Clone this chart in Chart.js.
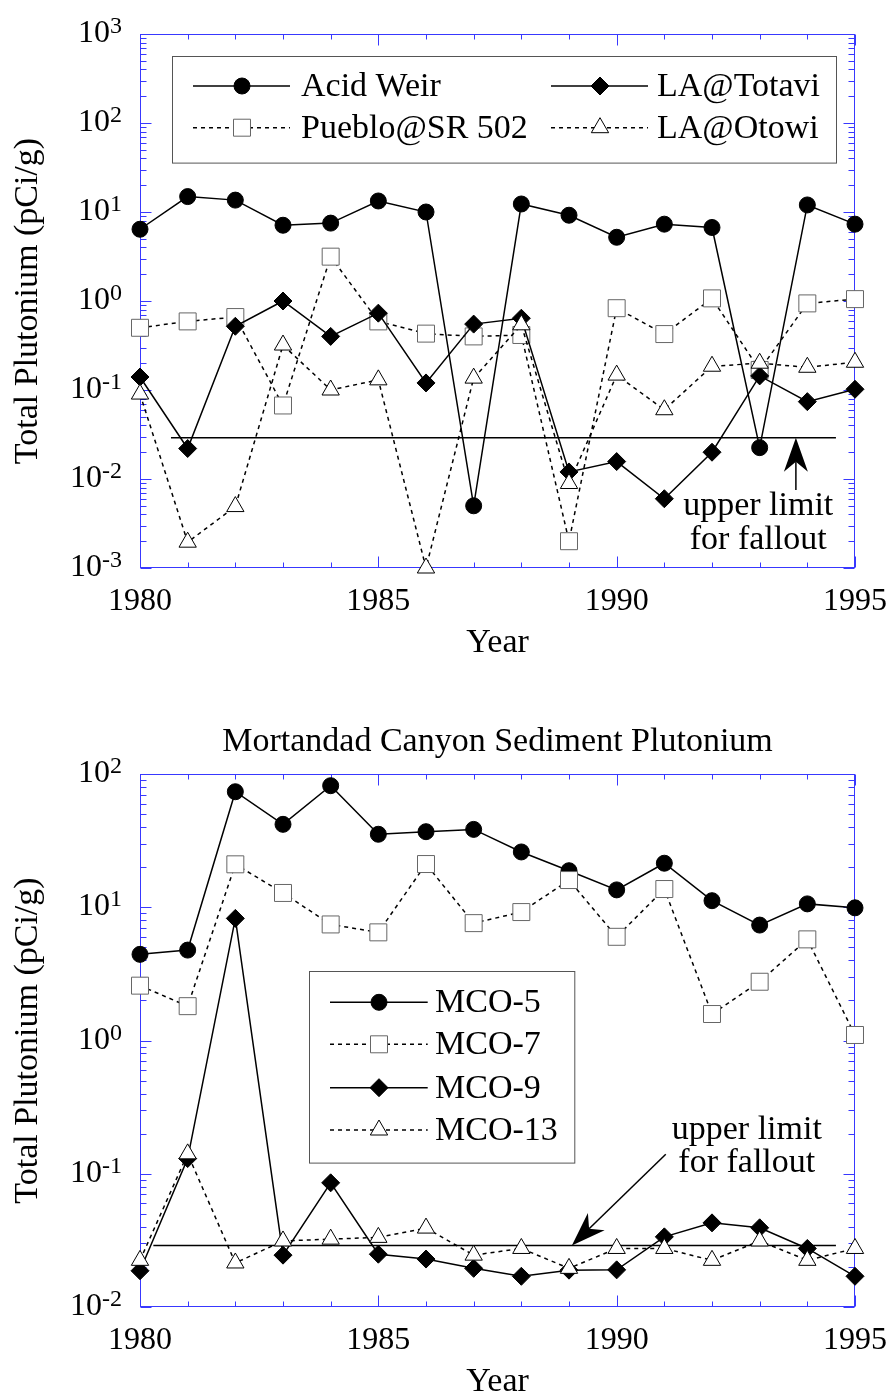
<!DOCTYPE html>
<html>
<head>
<meta charset="utf-8">
<script src="https://cdn.jsdelivr.net/npm/chart.js@4.4.1/dist/chart.umd.min.js"></script>
<style>
  html, body { margin: 0; padding: 0; background: #fff; }
  canvas { display: block; }
</style>
</head>
<body>
<canvas id="topChart" width="891" height="700"></canvas>
<canvas id="bottomChart" width="891" height="697"></canvas>
<script>
const years = [1980, 1981, 1982, 1983, 1984, 1985, 1986, 1987, 1988, 1989, 1990, 1991, 1992, 1993, 1994, 1995];

// upper panel (pCi/g)
const acidWeir = [6.4, 14.9, 13.6, 7.1, 7.5, 13.3, 10.0, 0.005, 12.3, 9.2, 5.2, 7.3, 6.7, 0.0225, 12.0, 7.3];
const puebloSR502 = [0.5, 0.59, 0.66, 0.067, 3.15, 0.59, 0.43, 0.40, 0.415, 0.002, 0.83, 0.425, 1.07, 0.168, 0.94, 1.05];
const laTotavi = [0.14, 0.022, 0.52, 1.0, 0.40, 0.73, 0.12, 0.55, 0.64, 0.012, 0.0157, 0.006, 0.02, 0.144, 0.074, 0.102];
const laOtowi = [0.09, 0.00195, 0.0049, 0.32, 0.1, 0.13, 0.001, 0.136, 0.54, 0.0089, 0.147, 0.06, 0.185, 0.2, 0.18, 0.205];

// lower panel (pCi/g)
const mco5 = [4.43, 4.77, 73.6, 41.9, 81.7, 35.3, 36.9, 38.4, 26.0, 18.8, 13.5, 21.4, 11.2, 7.35, 10.6, 9.9];
const mco7 = [2.58, 1.81, 21.0, 12.8, 7.43, 6.48, 21.1, 7.6, 9.2, 16.0, 6.0, 13.7, 1.58, 2.76, 5.74, 1.10];
const mco9 = [0.0187, 0.13, 8.25, 0.0245, 0.0855, 0.0249, 0.0229, 0.0195, 0.017, 0.0189, 0.019, 0.0336, 0.0428, 0.0393, 0.0275, 0.017];
const mco13 = [0.0224, 0.141, 0.0214, 0.0313, 0.0323, 0.0333, 0.0391, 0.0245, 0.0275, 0.0195, 0.0275, 0.0275, 0.0224, 0.0313, 0.0224, 0.0275];

const falloutLevel = 0.029;
const topFalloutSpan = [1980.65, 1994.6];
const bottomFalloutSpan = [1980.28, 1994.6];

const xTickYears = [1980, 1985, 1990, 1995];
const topExponents = [-3, -2, -1, 0, 1, 2, 3];
const bottomExponents = [-2, -1, 0, 1, 2];

const yTitle = 'Total Plutonium (pCi/g)';
const xTitle = 'Year';
const bottomTitle = 'Mortandad Canyon Sediment Plutonium';
const noteLines = ['upper limit', 'for fallout'];

const FONT = '"Liberation Serif", "Times New Roman", Times, serif';
const TICK_FONT = '32px ' + FONT;
const TEXT_FONT = '34px ' + FONT;
const BLUE = '#3838ff';

const markers = {
  circle:   { pointStyle: 'circle',   pointRadius: 8,  pointBackgroundColor: '#000', pointBorderColor: '#000', pointBorderWidth: 1 },
  diamond:  { pointStyle: 'rectRot',  pointRadius: 9,  pointBackgroundColor: '#000', pointBorderColor: '#000', pointBorderWidth: 1 },
  square:   { pointStyle: 'rect',     pointRadius: 12, pointBackgroundColor: '#fff', pointBorderColor: '#666', pointBorderWidth: 1 },
  triangle: { pointStyle: 'triangle', pointRadius: 10, pointBackgroundColor: '#fff', pointBorderColor: '#000', pointBorderWidth: 1 }
};

function series(label, values, marker, dashed) {
  return Object.assign({
    label: label,
    data: values.map((v, i) => ({ x: years[i], y: v })),
    borderColor: '#000',
    borderWidth: 1.5,
    borderDash: dashed ? [4, 4] : [],
    clip: false
  }, markers[marker]);
}

function falloutLine(span) {
  return {
    label: 'fallout',
    data: [{ x: span[0], y: falloutLevel }, { x: span[1], y: falloutLevel }],
    borderColor: '#000', borderWidth: 1.5, pointRadius: 0, clip: false
  };
}

function drawFrame(chart, exps) {
  const { ctx, chartArea: a, scales: { x, y } } = chart;
  ctx.save();
  ctx.strokeStyle = BLUE;
  ctx.lineWidth = 1;
  const L = Math.round(a.left) + 0.5, R = Math.round(a.right) - 0.5;
  const T = Math.round(a.top) + 0.5, B = Math.round(a.bottom) - 0.5;
  ctx.strokeRect(L, T, R - L, B - T);
  ctx.beginPath();
  for (let yr = x.min; yr <= x.max; yr++) {
    const px = Math.round(x.getPixelForValue(yr)) + 0.5;
    const len = yr % 5 === 0 ? 11 : 5;
    ctx.moveTo(px, B); ctx.lineTo(px, B - len);
    ctx.moveTo(px, T); ctx.lineTo(px, T + len);
  }
  exps.forEach(e => {
    for (let m = 1; m <= 9; m++) {
      const v = m * Math.pow(10, e);
      if (v > y.max * 1.0001) break;
      const py = Math.round(y.getPixelForValue(v)) + 0.5;
      const len = m === 1 ? 11 : 6;
      ctx.moveTo(L, py); ctx.lineTo(L + len, py);
      ctx.moveTo(R, py); ctx.lineTo(R - len, py);
    }
  });
  ctx.stroke();
  ctx.restore();
}

function drawAxesText(chart, exps, title) {
  const { ctx, chartArea: a, scales: { x, y } } = chart;
  ctx.save();
  ctx.fillStyle = '#000';
  ctx.textAlign = 'center';
  ctx.textBaseline = 'alphabetic';
  ctx.font = TICK_FONT;
  xTickYears.forEach(yr => ctx.fillText(String(yr), x.getPixelForValue(yr), a.bottom + 42));
  ctx.font = TEXT_FONT;
  ctx.fillText(xTitle, (a.left + a.right) / 2, a.bottom + 84);
  if (title) ctx.fillText(title, (a.left + a.right) / 2, a.top - 23);

  const right = a.left - 18;
  exps.forEach(e => {
    const py = y.getPixelForValue(Math.pow(10, e));
    const ex = String(e);
    ctx.font = '24px ' + FONT;
    const ew = ctx.measureText(ex).width;
    ctx.textAlign = 'left';
    ctx.fillText(ex, right - ew, py - 1);
    ctx.font = TICK_FONT;
    ctx.textAlign = 'right';
    ctx.fillText('10', right - ew, py + 8);
  });

  ctx.font = TEXT_FONT;
  ctx.textAlign = 'center';
  ctx.translate(37, (a.top + a.bottom) / 2);
  ctx.rotate(-Math.PI / 2);
  ctx.fillText(yTitle, 0, 0);
  ctx.restore();
}

function drawLegend(chart, lg) {
  const { ctx, chartArea: a } = chart;
  const ds = chart.data.datasets;
  ctx.save();
  ctx.fillStyle = '#fff';
  ctx.fillRect(a.left + lg.box[0], a.top + lg.box[1], lg.box[2], lg.box[3]);
  ctx.strokeStyle = '#555';
  ctx.lineWidth = 1;
  ctx.strokeRect(Math.round(a.left + lg.box[0]) + 0.5, Math.round(a.top + lg.box[1]) + 0.5, lg.box[2], lg.box[3]);
  lg.items.forEach(it => {
    const d = ds[it.ds];
    const c = lg.cols[it.col];
    const yy = a.top + lg.rows[it.row];
    ctx.strokeStyle = '#000';
    ctx.lineWidth = 1.5;
    ctx.setLineDash(d.borderDash);
    ctx.beginPath();
    ctx.moveTo(a.left + c[0], yy); ctx.lineTo(a.left + c[2], yy);
    ctx.stroke();
    ctx.setLineDash([]);
    ctx.fillStyle = d.pointBackgroundColor;
    ctx.strokeStyle = d.pointBorderColor;
    ctx.lineWidth = d.pointBorderWidth;
    Chart.helpers.drawPoint(ctx, { pointStyle: d.pointStyle, radius: d.pointRadius, borderWidth: d.pointBorderWidth, rotation: 0 }, a.left + c[1], yy);
    ctx.fillStyle = '#000';
    ctx.font = TEXT_FONT;
    ctx.textAlign = 'left';
    ctx.textBaseline = 'alphabetic';
    ctx.fillText(d.label, a.left + c[3], yy + 10);
  });
  ctx.restore();
}

function drawNote(chart, note) {
  const { ctx, scales: { x, y } } = chart;
  const tx = x.getPixelForValue(note.tip[0]), ty = y.getPixelForValue(note.tip[1]);
  const sx = x.getPixelForValue(note.tail[0]), sy = y.getPixelForValue(note.tail[1]);
  const len = Math.hypot(sx - tx, sy - ty);
  const ux = (sx - tx) / len, uy = (sy - ty) / len;
  const headLen = 34, notch = 24, half = 12;
  ctx.save();
  ctx.strokeStyle = '#000';
  ctx.lineWidth = 1.5;
  ctx.beginPath();
  ctx.moveTo(tx + ux * notch, ty + uy * notch);
  ctx.lineTo(sx, sy);
  ctx.stroke();
  ctx.fillStyle = '#000';
  ctx.beginPath();
  ctx.moveTo(tx, ty);
  ctx.lineTo(tx + ux * headLen - uy * half, ty + uy * headLen + ux * half);
  ctx.lineTo(tx + ux * notch, ty + uy * notch);
  ctx.lineTo(tx + ux * headLen + uy * half, ty + uy * headLen - ux * half);
  ctx.closePath();
  ctx.fill();
  ctx.font = TEXT_FONT;
  ctx.textAlign = 'center';
  ctx.textBaseline = 'alphabetic';
  noteLines.forEach((t, i) => ctx.fillText(t, x.getPixelForValue(note.textX), y.getPixelForValue(note.textY[i])));
  ctx.restore();
}

function makeChart(id, cfg) {
  const datasets = cfg.datasets.concat([falloutLine(cfg.fallout)]);
  datasets.forEach((d, i) => { d.order = i === datasets.length - 1 ? datasets.length + 1 : datasets.length - i; });
  return new Chart(document.getElementById(id), {
    type: 'line',
    data: { datasets: datasets },
    options: {
      responsive: false,
      animation: false,
      events: [],
      layout: { padding: cfg.padding },
      plugins: { legend: { display: false }, tooltip: { enabled: false } },
      scales: {
        x: { type: 'linear', min: 1980, max: 1995, display: false },
        y: { type: 'logarithmic', min: cfg.yMin, max: cfg.yMax, display: false }
      }
    },
    plugins: [{
      id: 'decor',
      beforeDatasetsDraw(chart) { drawFrame(chart, cfg.exps); },
      afterDatasetsDraw(chart) {
        drawAxesText(chart, cfg.exps, cfg.title);
        drawLegend(chart, cfg.legend);
        drawNote(chart, cfg.note);
      }
    }]
  });
}

makeChart('topChart', {
  datasets: [
    series('Acid Weir', acidWeir, 'circle', false),
    series('Pueblo@SR 502', puebloSR502, 'square', true),
    series('LA@Totavi', laTotavi, 'diamond', false),
    series('LA@Otowi', laOtowi, 'triangle', true)
  ],
  fallout: topFalloutSpan,
  yMin: 0.001, yMax: 1000,
  exps: topExponents,
  padding: { left: 140, right: 36, top: 34, bottom: 132 },
  legend: {
    box: [31.7, 21.7, 664, 106.6],
    cols: [[53, 102, 150, 161], [411, 460, 508, 517]],
    rows: [52, 93.7],
    items: [{ ds: 0, col: 0, row: 0 }, { ds: 2, col: 1, row: 0 }, { ds: 1, col: 0, row: 1 }, { ds: 3, col: 1, row: 1 }]
  },
  note: { tip: [1993.76, falloutLevel], tail: [1993.76, 0.0075], textX: 1992.97, textY: [0.00394, 0.00162] }
});

makeChart('bottomChart', {
  datasets: [
    series('MCO-5', mco5, 'circle', false),
    series('MCO-7', mco7, 'square', true),
    series('MCO-9', mco9, 'diamond', false),
    series('MCO-13', mco13, 'triangle', true)
  ],
  fallout: bottomFalloutSpan,
  yMin: 0.01, yMax: 100,
  exps: bottomExponents,
  title: bottomTitle,
  padding: { left: 140, right: 36, top: 74, bottom: 90 },
  legend: {
    box: [169, 196.7, 265.3, 191.6],
    cols: [[190, 239, 287.7, 295]],
    rows: [228.3, 270.3, 313.7, 356],
    items: [{ ds: 0, col: 0, row: 0 }, { ds: 1, col: 0, row: 1 }, { ds: 2, col: 0, row: 2 }, { ds: 3, col: 0, row: 3 }]
  },
  note: { tip: [1989.06, falloutLevel], tail: [1991.03, 0.14], textX: 1992.73, textY: [0.181, 0.1033] }
});
</script>
</body>
</html>
